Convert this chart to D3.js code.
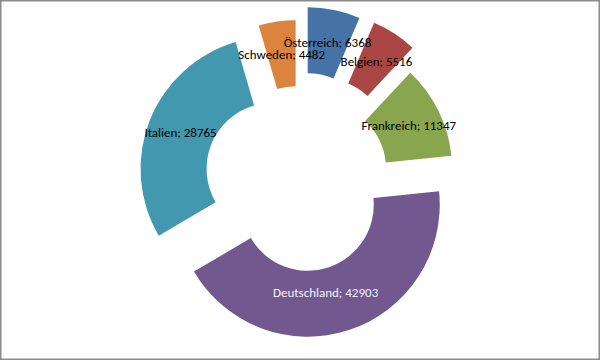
<!DOCTYPE html>
<html>
<head>
<meta charset="utf-8">
<script src="https://cdn.jsdelivr.net/npm/d3@7"></script>
<style>
  html, body { margin: 0; padding: 0; background: #fff; }
  svg { display: block; }
  .label { font-family: Calibri, Carlito, "Liberation Sans Narrow", "Open Sans", sans-serif; font-size: 13px; }
</style>
</head>
<body>
<svg id="chart" width="600" height="360"></svg>
<script>
// Daten
const countries = ["Österreich", "Belgien", "Frankreich", "Deutschland", "Italien", "Schweden"];
const values = [6368, 5516, 11347, 42903, 28765, 4482];
const colors = ["#4572A7", "#AA4643", "#89A54E", "#71588F", "#4198AF", "#DB843D"];

const svg = d3.select("#chart");
const width = +svg.attr("width");
const height = +svg.attr("height");

// Rahmen
svg.append("rect")
    .attr("x", 0.75).attr("y", 0.75)
    .attr("width", width - 1.5).attr("height", height - 1.5)
    .attr("fill", "#fff")
    .attr("stroke", "#8a8a8a")
    .attr("stroke-width", 1.5);

const cx = 299.5, cy = 179.5;
const outerR = 132, innerR = 66;
// Explosion je Segment (Pixel)
const explode = [41, 42, 23, 26.5, 29, 27.5];

const pie = d3.pie().sort(null).value(d => d.value);
const arc = d3.arc().innerRadius(innerR).outerRadius(outerR);

const slices = pie(countries.map((c, i) => ({ name: c, value: values[i], color: colors[i], off: explode[i] })));

function shift(d) {
    const a = (d.startAngle + d.endAngle) / 2;
    return [Math.sin(a) * d.data.off, -Math.cos(a) * d.data.off];
}

const g = svg.append("g").attr("transform", `translate(${cx},${cy})`);

// Segmente
g.selectAll(".slice")
    .data(slices)
    .enter()
    .append("path")
    .attr("class", "slice")
    .attr("transform", d => `translate(${shift(d)})`)
    .attr("d", arc)
    .attr("fill", d => d.data.color);

// Beschriftungen oben drauf
g.selectAll(".label")
    .data(slices)
    .enter()
    .append("text")
    .attr("class", "label")
    .attr("transform", d => {
        const [sx, sy] = shift(d);
        const [x, y] = arc.centroid(d);
        // Excel setzt das große Segment etwas näher zur Mitte
        const nudge = d.data.name === "Deutschland" ? [-13, -6] : [0, 0];
        return `translate(${x + sx + nudge[0]},${y + sy + nudge[1]})`;
    })
    .attr("text-anchor", "middle")
    .attr("dy", "0.35em")
    .attr("fill", d => d.data.name === "Deutschland" ? "#f4f0f8" : "#000")
    .text(d => `${d.data.name}; ${d.data.value}`);
</script>
</body>
</html>
